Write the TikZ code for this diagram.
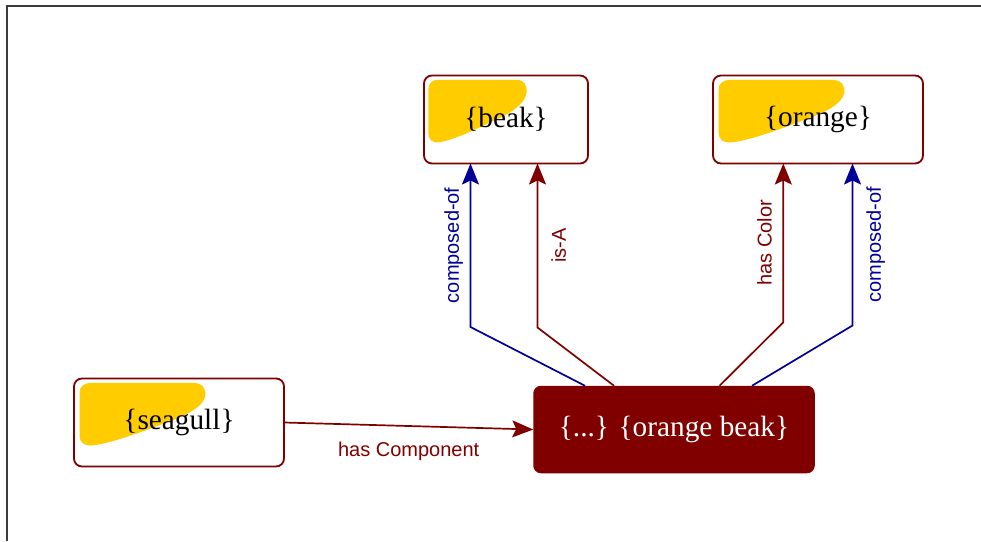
\documentclass[tikz,border=0pt]{standalone}
\usepackage{fontspec}
\setmainfont{Liberation Serif}
\newfontfamily\labelfont{Liberation Sans}
\usetikzlibrary{arrows.meta,calc,backgrounds}

\definecolor{darkred}{RGB}{128,0,0}
\definecolor{linkblue}{RGB}{0,0,153}
\definecolor{blobyellow}{RGB}{255,204,0}
\definecolor{framegray}{RGB}{60,60,60}

% yellow highlight blob in the upper left of a concept box;
% #1 is the box, #2 stretches the blob horizontally with the box width
\newcommand\yblob[2]{%
  \fill[blobyellow, shift={(#1.north west)}, x=#2pt, y=-1pt]
    (14,4.3) -- (92,4.3)
    .. controls (100,4.3) and (103,9) .. (102.7,17)
    .. controls (101,29) and (86,38) .. (70,45)
    .. controls (50,55) and (30,64) .. (16,66.7)
    .. controls (8,68) and (4.3,64) .. (4.3,57)
    -- (4.3,14)
    .. controls (4.3,8) and (8,4.3) .. (14,4.3);}

\tikzset{
  conceptbox/.style={draw=darkred, line width=1.8pt, rounded corners=8pt,
    minimum height=88pt, inner sep=0pt, outer sep=0pt,
    font=\fontsize{29.3}{32}\selectfont},
  selectedbox/.style={fill=darkred, draw=darkred, line width=1.5pt, rounded corners=7pt,
    minimum width=280pt, minimum height=86pt, inner sep=0pt, text=white,
    font=\fontsize{29.3}{32}\selectfont},
  redlink/.style={draw=darkred, line width=1.7pt,
    -{Stealth[length=21pt, width=17pt, inset=4pt]}},
  bluelink/.style={draw=linkblue, line width=1.7pt,
    -{Stealth[length=21pt, width=17pt, inset=4pt]}},
  linklabel/.style={font=\labelfont\fontsize{20}{24}\selectfont,
    text height=14.4pt, text depth=4.2pt, inner xsep=0pt},
  leftlabel/.style={linklabel, midway, sloped, above, inner ysep=6.7pt},
  rightlabel/.style={linklabel, midway, sloped, below, inner ysep=13pt},
}

\begin{document}
\begin{tikzpicture}[x=1pt, y=-1pt]
  \useasboundingbox (0,0) rectangle (981,541);

  % outer frame (left and top edges)
  \draw[framegray, line width=2pt] (6.7,541) -- (6.7,5.7) -- (981,5.7);

  % concept boxes
  \node[conceptbox, minimum width=164pt] (beak) at (506,119.5) {\{beak\}};
  \node[conceptbox, minimum width=210pt] (orange) at (818,119.5) {\{orange\}};
  \node[conceptbox, minimum width=210pt] (seagull) at (179,422.5) {\{seagull\}};
  \node[selectedbox] (ob) at (674,429.5) {\{...\}\hspace{0.33em}\{orange beak\}};

  % highlight blobs behind the box labels
  \begin{scope}[on background layer]
    \yblob{beak}{1}
    \yblob{orange}{1.28}
    \yblob{seagull}{1.28}
  \end{scope}

  % bend points of the upward links
  \coordinate (b1) at (470.5,327);
  \coordinate (b2) at (537.5,327.5);
  \coordinate (b3) at (783.3,322.3);
  \coordinate (b4) at (852.5,325.5);

  % links
  \draw[redlink] (seagull.east) -- (ob.west)
    node[linklabel, midway, below, inner ysep=15.5pt, text=darkred] {has Component};
  \draw[bluelink] ([xshift=-89pt]ob.north) -- (b1) -- (b1 |- beak.south)
    node[leftlabel, text=linkblue] {composed-of};
  \draw[redlink] ([xshift=-60pt]ob.north) -- (b2) -- (b2 |- beak.south)
    node[rightlabel, text=darkred] {is-A};
  \draw[redlink] ([xshift=45.5pt]ob.north) -- (b3) -- (b3 |- orange.south)
    node[leftlabel, text=darkred] {has Color};
  \draw[bluelink] ([xshift=78pt]ob.north) -- (b4) -- (b4 |- orange.south)
    node[rightlabel, text=linkblue] {composed-of};
\end{tikzpicture}
\end{document}
